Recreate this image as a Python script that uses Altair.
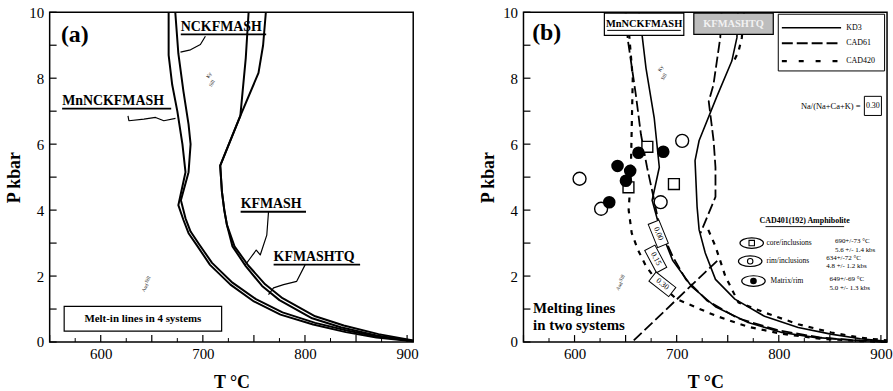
import altair as alt
import pandas as pd

SERIF = "Liberation Serif"
TMIN, TMAX = 550, 906
W, H = 366, 332

# ---------------- Panel (a) data ----------------
a_mn_T = [666.5, 666.5, 670, 675, 680, 683, 676, 681, 686, 694, 707, 727, 750, 776, 808, 840, 870, 906]
a_mn_P = [10, 8.7, 7.8, 7.0, 6.0, 5.15, 4.15, 3.7, 3.3, 2.94, 2.34, 1.74, 1.23, 0.83, 0.53, 0.3, 0.14, 0.02]
a_nc_T = [673, 676, 681, 686, 688, 686, 678.5, 683, 688, 696, 709, 729, 752, 778, 810, 842, 872, 906]
a_nc_P = [10, 8.75, 7.6, 6.6, 6.0, 5.15, 4.3, 3.75, 3.35, 2.98, 2.4, 1.8, 1.3, 0.9, 0.58, 0.34, 0.16, 0.03]
a_kf_T = [744.8, 742, 736.7, 717, 718.7, 721, 723.6, 729, 742, 758, 775, 807, 835, 870, 906]
a_kf_P = [10, 8.6, 6.86, 5.35, 4.55, 4.0, 3.55, 2.9, 2.3, 1.7, 1.27, 0.72, 0.45, 0.2, 0.03]
a_kq_T = [761.7, 759, 754.5, 736.7, 717, 718.7, 721, 723.6, 731, 744.5, 761, 778, 810, 838, 872, 906]
a_kq_P = [10, 9.0, 8.16, 6.86, 5.35, 4.55, 4.0, 3.55, 2.9, 2.32, 1.75, 1.33, 0.78, 0.5, 0.24, 0.05]

a_labels = ["NCKFMASH", "MnNCKFMASH", "KFMASH", "KFMASHTQ"]
a_label_T = [678.4, 562.2, 737.0, 769.3]
a_label_P = [9.55, 7.3, 4.17, 2.57]
a_ul_T2 = [762.0, 669.0, 801.0, 854.0]
a_ul_P = [9.33, 7.08, 3.95, 2.35]

# leader lines (T, P) for each label
lead_nc_T = [702.5, 697.6, 687.9, 678.1]
lead_nc_P = [9.27, 9.02, 8.86, 8.79]
lead_mn_T = [626.7, 627.6, 642.3, 653.7, 661.8, 673.2]
lead_mn_P = [6.86, 6.71, 6.76, 6.81, 6.71, 6.78]
lead_kf_T = [764.3, 762.6, 756.2, 752.3, 746.4, 741.6]
lead_kf_P = [3.95, 3.24, 2.64, 2.79, 2.54, 2.34]
lead_kq_T = [800.1, 791.9, 779.0, 769.2, 764.3]
lead_kq_P = [2.34, 1.84, 1.74, 1.64, 1.44]

# ---------------- Panel (b) data ----------------
b_kd3_mn_T = [663, 665, 670, 678, 683, 676, 683, 696, 715, 738, 770, 803, 835, 870, 906]
b_kd3_mn_P = [10, 9.6, 8.3, 6.8, 5.3, 4.3, 3.5, 2.48, 1.67, 1.07, 0.59, 0.29, 0.14, 0.06, 0.01]
b_c61_mn_T = [650, 652, 660, 665, 671, 678, 683, 696, 709, 730, 760, 800, 840, 880, 906]
b_c61_mn_P = [10, 9.2, 7.5, 6.3, 5.3, 4.3, 3.5, 2.6, 1.9, 1.25, 0.72, 0.35, 0.14, 0.04, 0.0]
b_c420_mn_T = [650, 653, 657, 656, 655, 653, 656, 662, 670, 682, 700, 738, 770, 803, 840, 880, 906]
b_c420_mn_P = [10, 9.5, 8.0, 6.5, 5.0, 4.0, 3.3, 2.8, 2.3, 1.8, 1.3, 0.8, 0.46, 0.25, 0.1, 0.03, 0.0]
b_kd3_kf_T = [760, 759, 754, 739, 722, 718, 720, 722, 728, 738, 757, 786, 819, 851, 880, 906]
b_kd3_kf_P = [10, 9.23, 8.52, 7.42, 6.11, 5.5, 4.1, 3.4, 2.7, 1.9, 1.3, 0.78, 0.44, 0.24, 0.1, 0.02]
b_c61_kf_T = [744, 742.7, 736, 731.4, 736.2, 738, 738, 723.3]
b_c61_kf_P = [10, 9.23, 7.8, 7.3, 6.1, 5.3, 4.4, 3.3]
b_c420_kf_top_T = [766, 763.8, 760.5, 755.7]
b_c420_kf_top_P = [10, 9.23, 8.8, 8.5]
b_c420_kf_low_T = [731, 738, 747.6, 760.5, 786.5, 818.9, 851.3, 880, 906]
b_c420_kf_low_P = [3.4, 2.9, 2.0, 1.2, 0.89, 0.54, 0.29, 0.13, 0.05]
b_react_T = [658, 741]
b_react_P = [0.05, 2.5]

open_circ_T = [604.9, 705.4, 684.3, 626.0]
open_circ_P = [4.95, 6.1, 4.24, 4.04]
fill_circ_T = [662.6, 686.9, 642.1, 654.5, 650.3, 634.0]
fill_circ_P = [5.74, 5.77, 5.34, 5.19, 4.89, 4.24]
square_T = [671.3, 697.3, 652.8]
square_P = [5.92, 4.79, 4.69]

na_labels = ["0.00", "0.15", "0.30"]
na_T = [682.0, 679.5, 686.0]
na_P = [3.28, 2.52, 1.75]
na_angle = [68, 62, 38]

leg_names = ["KD3", "CAD61", "CAD420"]
leg_P = [9.53, 9.06, 8.52]

amph_names = ["core/inclusions", "rim/inclusions", "Matrix/rim"]
amph_T = [773.5, 772.0, 775.2]
amph_P = [3.0, 2.45, 1.85]
amph_text_T = [788.0, 788.0, 792.0]
amph_v1 = ["690+/-73 °C", "634+/-72 °C", "649+/-69 °C"]
amph_v2 = ["5.6 +/- 1.4 kbs", "4.8 +/- 1.2 kbs", "5.0 +/- 1.3 kbs"]
amph_vT = [855.0, 846.5, 849.7]
amph_vP1 = [3.07, 2.56, 1.92]
amph_vP2 = [2.8, 2.29, 1.63]

x_major = [550, 600, 650, 700, 750, 800, 850, 900]
x_minor = [575, 625, 675, 725, 775, 825, 875]
y_ticks = [0, 1, 2, 3, 4, 5, 6, 7, 8, 9, 10]

# ---------------- encodings ----------------
xs = alt.Scale(domain=[TMIN, TMAX], nice=False, zero=False)
ys = alt.Scale(domain=[0, 10], nice=False, zero=False)
xaxis = alt.Axis(values=[600, 700, 800, 900], title="T °C", format="d", labelFont=SERIF,
                 labelFontSize=15, labelColor="black", titleFont=SERIF, titleFontSize=18,
                 titleFontWeight="bold", titleColor="black", ticks=False, domain=False,
                 grid=False, labelPadding=5, titlePadding=12, labelFlush=False)
yaxis = alt.Axis(values=[0, 2, 4, 6, 8, 10], title="P kbar", format="d", labelFont=SERIF,
                 labelFontSize=15, labelColor="black", titleFont=SERIF, titleFontSize=18,
                 titleFontWeight="bold", titleColor="black", ticks=False, domain=False,
                 grid=False, labelPadding=6, titlePadding=5, labelFlush=False)


def X(field="T"):
    return alt.X(f"{field}:Q", scale=xs, axis=xaxis)


def Y(field="P"):
    return alt.Y(f"{field}:Q", scale=ys, axis=yaxis)


def curve_df(T, P, name):
    return pd.DataFrame({"T": T, "P": P, "id": name, "o": list(range(len(T)))})


def lines(dfs, width=2.0, dash=None, color="black"):
    df = pd.concat(dfs, ignore_index=True)
    kw = dict(color=color, strokeWidth=width, strokeJoin="round")
    if dash:
        kw["strokeDash"] = dash
    return alt.Chart(df).mark_line(**kw).encode(x=X(), y=Y(), detail="id:N", order="o:Q")


def texts(labels, T, P, size, bold=False, align="left", angle=None, baseline="middle", color="black"):
    df = pd.DataFrame({"label": labels, "T": T, "P": P})
    kw = dict(font=SERIF, fontSize=size, fontWeight="bold" if bold else "normal",
              align=align, baseline=baseline, color=color)
    if angle is not None:
        kw["angle"] = angle
    return alt.Chart(df).mark_text(**kw).encode(x=X(), y=Y(), text="label:N")


def hrules(T1, T2, P, width=1.5):
    df = pd.DataFrame({"T": T1, "T2": T2, "P": P})
    return alt.Chart(df).mark_rule(color="black", strokeWidth=width).encode(
        x=X(), x2="T2:Q", y=Y())


def box(T1, T2, P1, P2, fill="white", width=1.2):
    df = pd.DataFrame({"T": [T1], "T2": [T2], "P": [P1], "P2": [P2]})
    return alt.Chart(df).mark_rect(fill=fill, stroke="black", strokeWidth=width).encode(
        x=X(), x2="T2:Q", y=Y(), y2="P2:Q")


def tick_layers():
    dy = pd.DataFrame({"P": y_ticks})
    dxM = pd.DataFrame({"T": x_major})
    dxm = pd.DataFrame({"T": x_minor})
    ly = alt.Chart(dy).mark_rule(color="black", strokeWidth=1.2).encode(
        y=Y(), x=alt.value(0), x2=alt.value(7))
    lxM = alt.Chart(dxM).mark_rule(color="black", strokeWidth=1.2).encode(
        x=X(), y=alt.value(H), y2=alt.value(H - 7))
    lxm = alt.Chart(dxm).mark_rule(color="black", strokeWidth=1.0).encode(
        x=X(), y=alt.value(H), y2=alt.value(H - 4))
    return [ly, lxM, lxm]


# ---------------- panel (a) ----------------
a_layers = tick_layers()
a_layers.append(lines([curve_df(a_mn_T, a_mn_P, "mn"), curve_df(a_nc_T, a_nc_P, "nc"),
                       curve_df(a_kf_T, a_kf_P, "kf"), curve_df(a_kq_T, a_kq_P, "kq")], width=2.0))
a_layers.append(lines([curve_df(lead_nc_T, lead_nc_P, "l1"), curve_df(lead_mn_T, lead_mn_P, "l2"),
                       curve_df(lead_kf_T, lead_kf_P, "l3"), curve_df(lead_kq_T, lead_kq_P, "l4")],
                      width=1.2))
a_layers.append(texts(a_labels, a_label_T, a_label_P, 14, bold=True))
a_layers.append(hrules(a_label_T, a_ul_T2, a_ul_P, width=1.8))
a_layers.append(texts(["(a)"], [561.0], [9.3], 24, bold=True))
a_layers.append(box(564.2, 718.4, 1.08, 0.33))
a_layers.append(texts(["Melt-in lines in 4 systems"], [641.3], [0.71], 11, bold=True, align="center"))
a_layers.append(texts(["Ky", "Sill"], [705.5, 708.5], [8.1, 7.85], 5, angle=300, align="center"))
a_layers.append(texts(["Sill", "And"], [645.5, 643.0], [1.9, 1.65], 5, angle=300, align="center"))
panel_a = alt.layer(*a_layers).properties(width=W, height=H)

# ---------------- panel (b) ----------------
b_layers = tick_layers()
b_layers.append(lines([curve_df(b_kd3_mn_T, b_kd3_mn_P, "s1"), curve_df(b_kd3_kf_T, b_kd3_kf_P, "s2")],
                      width=1.6))
b_layers.append(lines([curve_df(b_c61_mn_T, b_c61_mn_P, "d1"), curve_df(b_c61_kf_T, b_c61_kf_P, "d2"),
                       curve_df(b_react_T, b_react_P, "d3")], width=1.8, dash=[11, 4]))
b_layers.append(lines([curve_df(b_c420_mn_T, b_c420_mn_P, "t1"),
                       curve_df(b_c420_kf_top_T, b_c420_kf_top_P, "t2"),
                       curve_df(b_c420_kf_low_T, b_c420_kf_low_P, "t3")],
                      width=2.2, dash=[5, 6]))

df_oc = pd.DataFrame({"T": open_circ_T, "P": open_circ_P})
df_fc = pd.DataFrame({"T": fill_circ_T, "P": fill_circ_P})
df_sq = pd.DataFrame({"T": square_T, "P": square_P})
b_layers.append(alt.Chart(df_oc).mark_point(shape="circle", size=170, filled=True, fill="white",
                                             stroke="black", strokeWidth=1.4, opacity=1)
                .encode(x=X(), y=Y()))
b_layers.append(alt.Chart(df_sq).mark_point(shape="square", size=120, filled=True, fill="white",
                                             stroke="black", strokeWidth=1.4, opacity=1)
                .encode(x=X(), y=Y()))
b_layers.append(alt.Chart(df_fc).mark_point(shape="circle", size=160, filled=True, color="black",
                                             opacity=1).encode(x=X(), y=Y()))

# rotated Na-ratio boxes on the lines
df_na = pd.DataFrame({"label": na_labels, "T": na_T, "P": na_P, "ang": na_angle})
rect_path = "M-1,-0.46L1,-0.46L1,0.46L-1,0.46Z"
b_layers.append(alt.Chart(df_na).mark_point(shape=rect_path, size=640, filled=True, fill="white",
                                             stroke="black", strokeWidth=1.0, opacity=1)
                .encode(x=X(), y=Y(), angle=alt.Angle("ang:Q", scale=None)))
b_layers.append(alt.Chart(df_na).mark_text(font=SERIF, fontSize=8, color="black")
                .encode(x=X(), y=Y(), text="label:N", angle=alt.Angle("ang:Q", scale=None)))

# top boxes
b_layers.append(box(629.2, 707.0, 9.97, 9.3))
b_layers.append(texts(["MnNCKFMASH"], [668.1], [9.64], 10.5, bold=True, align="center"))
b_layers.append(hrules([632.0], [704.0], [9.45], width=1.0))
b_layers.append(box(716.8, 794.6, 9.97, 9.33, fill="#bdbdbd"))
b_layers.append(texts(["KFMASHTQ"], [755.7], [9.64], 10.5, bold=True, align="center", color="#f2f2f2"))

# legend
b_layers.append(box(799.5, 903.6, 9.94, 8.22, width=1.0))
b_layers.append(alt.Chart(pd.DataFrame({"T": [803.0], "T2": [861.0], "P": [leg_P[0]]}))
                .mark_rule(color="black", strokeWidth=1.6).encode(x=X(), x2="T2:Q", y=Y()))
b_layers.append(alt.Chart(pd.DataFrame({"T": [803.0], "T2": [861.0], "P": [leg_P[1]]}))
                .mark_rule(color="black", strokeWidth=1.8, strokeDash=[11, 4]).encode(x=X(), x2="T2:Q", y=Y()))
b_layers.append(alt.Chart(pd.DataFrame({"T": [803.0], "T2": [861.0], "P": [leg_P[2]]}))
                .mark_rule(color="black", strokeWidth=2.2, strokeDash=[5, 12]).encode(x=X(), x2="T2:Q", y=Y()))
b_layers.append(texts(leg_names, [866.0] * 3, leg_P, 8))

b_layers.append(texts(["Na/(Na+Ca+K) = "], [880.0], [7.16], 8.5, align="right"))
b_layers.append(box(883.8, 900.5, 7.45, 6.87, width=1.0))
b_layers.append(texts(["0.30"], [892.1], [7.16], 8, align="center"))

# amphibolite legend
b_layers.append(texts(["CAD401(192) Amphibolite"], [825.3], [3.67], 8, bold=True, align="center"))
b_layers.append(hrules([787.0], [864.0], [3.5], width=0.9))
ell_path = "M-1,0A1,0.45 0 1,0 1,0A1,0.45 0 1,0 -1,0Z"
df_ell = pd.DataFrame({"T": amph_T, "P": amph_P})
b_layers.append(alt.Chart(df_ell).mark_point(shape=ell_path, size=560, filled=True, fill="white",
                                              stroke="black", strokeWidth=1.2, opacity=1)
                .encode(x=X(), y=Y()))
b_layers.append(alt.Chart(pd.DataFrame({"T": [amph_T[0]], "P": [amph_P[0]]}))
                .mark_point(shape="square", size=30, filled=False, color="black", strokeWidth=1.1, opacity=1)
                .encode(x=X(), y=Y()))
b_layers.append(alt.Chart(pd.DataFrame({"T": [amph_T[1]], "P": [amph_P[1]]}))
                .mark_point(shape="circle", size=30, filled=False, color="black", strokeWidth=1.1, opacity=1)
                .encode(x=X(), y=Y()))
b_layers.append(alt.Chart(pd.DataFrame({"T": [amph_T[2]], "P": [amph_P[2]]}))
                .mark_point(shape="circle", size=45, filled=True, color="black", opacity=1)
                .encode(x=X(), y=Y()))
b_layers.append(texts(amph_names, amph_text_T, amph_P, 7.5))
b_layers.append(texts(amph_v1, amph_vT, amph_vP1, 7))
b_layers.append(texts(amph_v2, amph_vT, amph_vP2, 7))

b_layers.append(texts(["(b)"], [558.5], [9.36], 24, bold=True))
b_layers.append(texts(["Melting lines", "in two systems"], [559.4, 559.4], [1.04, 0.52], 15, bold=True))
b_layers.append(texts(["Ky", "Sill"], [684.0, 687.0], [8.3, 8.05], 5, angle=300, align="center"))
b_layers.append(texts(["Sill", "And"], [646.0, 643.5], [1.95, 1.7], 5, angle=300, align="center"))
panel_b = alt.layer(*b_layers).properties(width=W, height=H)

chart = (
    alt.hconcat(panel_a, panel_b, spacing=111, bounds="flush")
    .properties(padding={"left": 5, "top": 3, "right": 0, "bottom": 0}, background="white")
    .configure_view(stroke="black", strokeWidth=1.5)
)

chart.save("out.html", embed_options={"renderer": "svg", "actions": False})
